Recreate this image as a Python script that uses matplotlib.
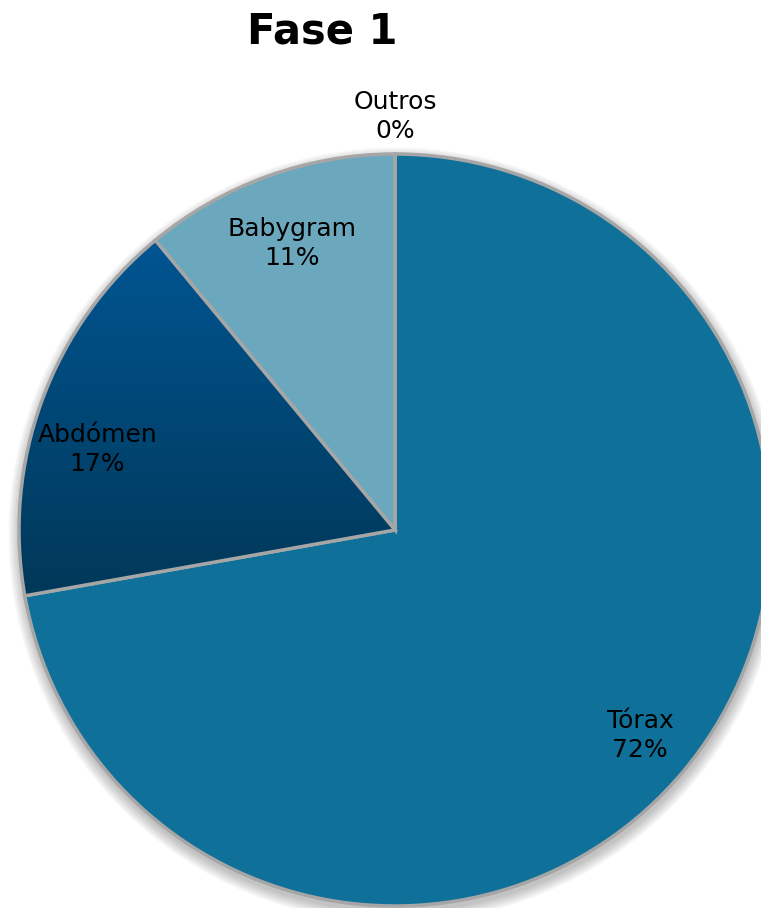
import matplotlib.pyplot as plt
import numpy as np
from matplotlib.patches import Circle

labels = ["Tórax", "Abdómen", "Babygram", "Outros"]
values = [72.2, 16.8, 11.0, 0.0]
pct_text = ["72%", "17%", "11%", "0%"]
colors = ["#0F7099", "#00548F", "#6BA8BD", "#6BA8BD"]
label_dist = [0.85, 0.82, 0.81, 1.10]
label_shift = [0, 5, 0, 0]  # degrees, nudge along the arc

W, H = 761, 908
fig = plt.figure(figsize=(W / 100, H / 100), dpi=100)
ax = fig.add_axes([0, 0, 1, 1])

cx, cy, r = 395, H - 530, 376

# soft shadow behind the pie
for k in range(8):
    ax.add_patch(Circle((cx + 1, cy - 5), r + 1 + k * 1.5, color="black",
                        alpha=0.03, lw=0, zorder=0))

wedges, _ = ax.pie(values, colors=colors, startangle=90, counterclock=False,
                   center=(cx, cy), radius=r, frame=True,
                   wedgeprops=dict(edgecolor="#A6A6A6", linewidth=2.5))
for w in wedges:
    w.set_zorder(2)

# vertical gradient on the Abdómen slice
abd = wedges[1]
abd.set_facecolor("none")
abd.set_zorder(3)
grad = np.linspace(0, 1, 256).reshape(-1, 1)
top = np.array([0x00, 0x55, 0x92]) / 255
bot = np.array([0x00, 0x38, 0x58]) / 255
img = top + (bot - top) * grad[..., None]
bb = abd.get_path().get_extents()
im = ax.imshow(img, extent=(bb.x0, bb.x1, bb.y0, bb.y1), origin="upper",
               aspect="auto", zorder=2.5)
im.set_clip_path(abd)

ax.set_xlim(0, W)
ax.set_ylim(0, H)
ax.axis("off")

for w, lab, pct, d, s in zip(wedges, labels, pct_text, label_dist, label_shift):
    ang = np.deg2rad((w.theta1 + w.theta2) / 2 + s)
    x = cx + d * r * np.cos(ang)
    y = cy + d * r * np.sin(ang)
    ax.text(x, y, f"{lab}\n{pct}", ha="center", va="center", fontsize=18,
            color="black", linespacing=1.25, zorder=5)

fig.text(322 / W, 1 - 32 / H, "Fase 1", ha="center", va="center",
         fontsize=30, fontweight="bold")

fig.savefig("out.png", dpi=100)
